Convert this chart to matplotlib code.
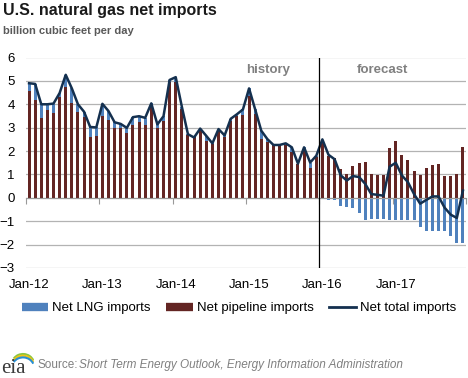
import matplotlib
matplotlib.use("Agg")
import matplotlib.pyplot as plt
from matplotlib.lines import Line2D
from matplotlib.patches import Arc
import numpy as np

plt.rcParams["font.family"] = ["Liberation Sans", "DejaVu Sans"]

# Monthly values, Jan-12 .. Dec-17 (billion cubic feet per day)
pipeline = [
    4.58, 4.17, 3.43, 3.74, 3.61, 4.32, 4.74, 4.04, 3.65, 3.46, 2.58, 2.65,
    3.52, 3.32, 2.97, 2.97, 2.78, 3.12, 3.23, 3.12, 3.88, 2.97, 3.30, 4.94,
    4.97, 3.78, 2.70, 2.58, 2.94, 2.41, 2.29, 2.87, 2.62, 3.30, 3.49, 3.54,
    4.36, 3.57, 2.51, 2.39, 2.29, 2.26, 2.26, 1.96, 1.46, 2.04, 1.29, 1.75,
    2.45, 1.77, 1.69, 1.25, 1.03, 1.36, 1.47, 1.55, 1.04, 0.99, 0.99, 2.15,
    2.45, 1.84, 1.62, 1.14, 0.96, 1.28, 1.40, 1.44, 0.92, 0.92, 1.01, 2.17,
]
lng = [
    0.32, 0.70, 0.57, 0.26, 0.42, 0.16, 0.52, 0.64, 0.35, 0.22, 0.45, 0.36,
    0.50, 0.39, 0.26, 0.19, 0.21, 0.33, 0.26, 0.30, 0.16, 0.17, 0.19, 0.10,
    0.19, 0.12, 0.02, 0.00, 0.02, 0.24, 0.04, -0.03, 0.05, 0.08, 0.08, 0.24,
    0.32, 0.21, 0.36, 0.12, -0.03, 0.00, 0.07, 0.20, 0.00, 0.12, 0.22, 0.05,
    0.03, -0.10, -0.10, -0.36, -0.39, -0.42, -0.64, -0.95, -0.91, -0.91, -0.91, -0.93,
    -0.96, -0.96, -0.96, -0.96, -1.23, -1.40, -1.40, -1.40, -1.40, -1.64, -1.91, -1.91,
]
total = [
    4.90, 4.87, 4.00, 4.00, 4.03, 4.48, 5.26, 4.68, 4.00, 3.68, 3.03, 3.01,
    4.02, 3.71, 3.23, 3.16, 2.99, 3.45, 3.49, 3.42, 4.04, 3.14, 3.49, 5.04,
    5.16, 3.90, 2.72, 2.58, 2.96, 2.65, 2.33, 2.94, 2.67, 3.38, 3.57, 3.78,
    4.68, 3.78, 2.87, 2.51, 2.26, 2.26, 2.33, 2.16, 1.46, 2.16, 1.51, 1.80,
    2.50, 1.84, 1.65, 0.96, 0.74, 0.93, 0.89, 0.60, 0.16, 0.13, 0.09, 1.33,
    1.50, 0.96, 0.67, 0.16, -0.25, -0.09, 0.06, 0.06, -0.42, -0.72, -0.86, 0.31,
]
year_labels = ["Jan-12", "Jan-13", "Jan-14", "Jan-15", "Jan-16", "Jan-17"]
forecast_start = 48  # Jan-16

c_lng = "#4f81bd"
c_pipe = "#632523"
c_line = "#14304f"
c_grid = "#b3b3b3"

pipeline = np.array(pipeline)
lng = np.array(lng)
total = np.array(total)
x = np.arange(len(pipeline))

fig = plt.figure(figsize=(4.68, 3.78), dpi=100)
ax = fig.add_axes([26 / 468, 1 - 268 / 378, 440 / 468, 210.5 / 378])

# bars: positive LNG stacks on pipeline, negative LNG hangs below zero
lng_bottom = np.where(lng > 0, pipeline, 0)
ax.bar(x, pipeline, width=0.5, color=c_pipe, zorder=2)
ax.bar(x, lng, bottom=lng_bottom, width=0.5, color=c_lng, zorder=2)
ax.plot(x, total, color=c_line, lw=1.8, zorder=4)

ax.set_xlim(-0.5, len(x) - 0.5)
ax.set_ylim(-3, 6)
ax.set_yticks(range(-3, 7))
ax.yaxis.grid(True, color=c_grid, lw=0.9)
ax.set_axisbelow(True)
for s in ["top", "right", "left"]:
    ax.spines[s].set_visible(False)
ax.tick_params(axis="y", length=0, pad=8, labelsize=9.5)

# zero line with year boundary ticks
ax.spines["bottom"].set_position(("data", 0))
ax.spines["bottom"].set_color("#999999")
ax.spines["bottom"].set_zorder(3)
ax.set_xticks(np.arange(-0.5, len(x), 12))
ax.tick_params(axis="x", direction="out", length=4, color="#999999", labelbottom=False)

sec = ax.secondary_xaxis("bottom")
sec.set_xticks(np.arange(0, len(x), 12), labels=year_labels)
sec.tick_params(length=0, pad=8, labelsize=9.5)
sec.spines["bottom"].set_visible(False)

# history / forecast divider
ax.axvline(forecast_start - 0.5, color="black", lw=0.9, zorder=5)
ax.text(39.2, 5.45, "history", ha="center", va="center", color="#808080",
        fontsize=9.5, fontweight="bold")
ax.text(57.9, 5.45, "forecast", ha="center", va="center", color="#808080",
        fontsize=9.5, fontweight="bold")

fig.text(3 / 468, 1 - 3 / 378, "U.S. natural gas net imports", ha="left", va="top",
         fontsize=11.5, fontweight="bold", color="#1a1a1a")
fig.text(3 / 468, 1 - 26 / 378, "billion cubic feet per day", ha="left", va="top",
         fontsize=8, fontweight="bold", color="#595959")

handles = [
    Line2D([], [], color=c_lng, lw=6, solid_capstyle="butt"),
    Line2D([], [], color=c_pipe, lw=6, solid_capstyle="butt"),
    Line2D([], [], color=c_line, lw=2),
]
fig.legend(handles, ["Net LNG imports", "Net pipeline imports", "Net total imports"],
           loc="center", bbox_to_anchor=(0.51, 1 - 308 / 378), ncol=3, frameon=False,
           fontsize=9.5, handlelength=2.0, handletextpad=0.3, columnspacing=1.2)

# source line
fig.text(37 / 468, 1 - 365 / 378, "Source:", ha="left", va="center",
         fontsize=8.5, color="#808080")
fig.text(79 / 468, 1 - 365 / 378,
         "Short Term Energy Outlook, Energy Information Administration",
         ha="left", va="center", fontsize=8.5, color="#808080", style="italic")

# eia logo
lax = fig.add_axes([0, 0, 34 / 468, 36 / 378])
lax.set_xlim(0, 34)
lax.set_ylim(0, 36)
lax.axis("off")
lax.text(1, 5, "eia", family="Liberation Serif", fontsize=15, color="#3a3a3a",
         ha="left", va="baseline")
for i, col in enumerate(["#8dc63f", "#f2c314", "#2a8fd1"]):
    lax.add_patch(Arc((23, 14 - i * 1.7), 22, 20, theta1=20, theta2=150,
                      color=col, lw=1.5))

fig.savefig("out.png", dpi=100)
